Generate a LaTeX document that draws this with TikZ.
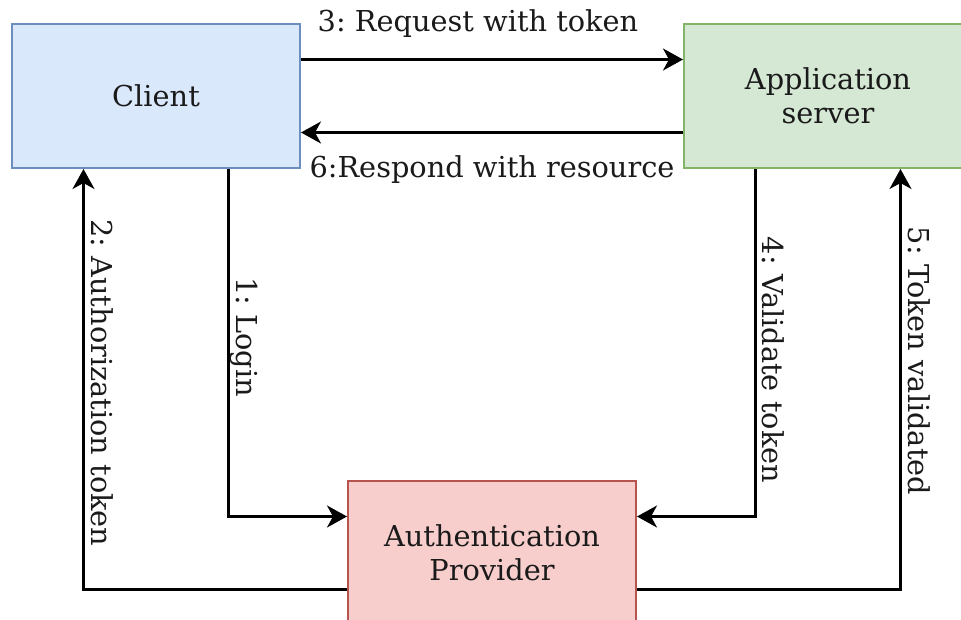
\documentclass[tikz,border=0pt]{standalone}
\usepackage{fontspec}
\setmainfont{DejaVu Serif}
\frenchspacing
\usetikzlibrary{arrows.meta,calc}
\definecolor{clientfill}{HTML}{DAE8FC}
\definecolor{clientline}{HTML}{6C8EBF}
\definecolor{appfill}{HTML}{D5E8D4}
\definecolor{appline}{HTML}{82B366}
\definecolor{authfill}{HTML}{F8CECC}
\definecolor{authline}{HTML}{B85450}
\definecolor{inktext}{HTML}{1A1A1A}
\tikzset{
  box/.style={rectangle, minimum width=288pt, minimum height=144pt, inner sep=0pt,
    line width=2pt, align=center, text=inktext,
    font=\fontsize{28.8}{34.5}\selectfont},
  arr/.style={line width=2.2pt, -{Stealth[length=20pt,width=22pt,inset=6pt]}},
  lbl/.style={text=inktext, inner sep=0pt, font=\fontsize{28.8}{34.5}\selectfont},
}
\begin{document}
\begin{tikzpicture}[x=1pt,y=-1pt]
  \useasboundingbox (0,0) rectangle (961,619);
  \clip (0,0) rectangle (961,619);

  % the three parties
  \node[box, fill=clientfill, draw=clientline] (client) at (156,96) {Client};
  \node[box, fill=appfill, draw=appline] (app) at (828,96) {Application\\server};
  \node[box, fill=authfill, draw=authline] (auth) at (492,553) {Authentication\\Provider};

  % client <-> application server
  \draw[arr] ($(client.north east)!0.25!(client.south east)$) -- ($(app.north west)!0.25!(app.south west)$);
  \draw[arr] ($(app.north west)!0.75!(app.south west)$) -- ($(client.north east)!0.75!(client.south east)$);

  % client <-> authentication provider
  \draw[arr] ($(client.south west)!0.75!(client.south east)$) |- ($(auth.north west)!0.25!(auth.south west)$);
  \draw[arr] ($(auth.north west)!0.75!(auth.south west)$) -| ($(client.south west)!0.25!(client.south east)$);

  % application server <-> authentication provider
  \draw[arr] ($(app.south west)!0.25!(app.south east)$) |- ($(auth.north east)!0.25!(auth.south east)$);
  \draw[arr] ($(auth.north east)!0.75!(auth.south east)$) -| ($(app.south west)!0.75!(app.south east)$);

  % step labels
  \node[lbl] (l3) at (478,24) {3: Request with token};
  \node[lbl] (l6) at (492,170) {6:Respond with resource};
  \node[lbl, rotate=-90] (l1) at (244,337) {1: Login};
  \node[lbl, rotate=-90] (l2) at (102,383) {2: Authorization token};
  \node[lbl, rotate=-90] (l4) at (773,360) {4: Validate token};
  \node[lbl, rotate=-90] (l5) at (919,361) {5: Token validated};
\end{tikzpicture}
\end{document}
